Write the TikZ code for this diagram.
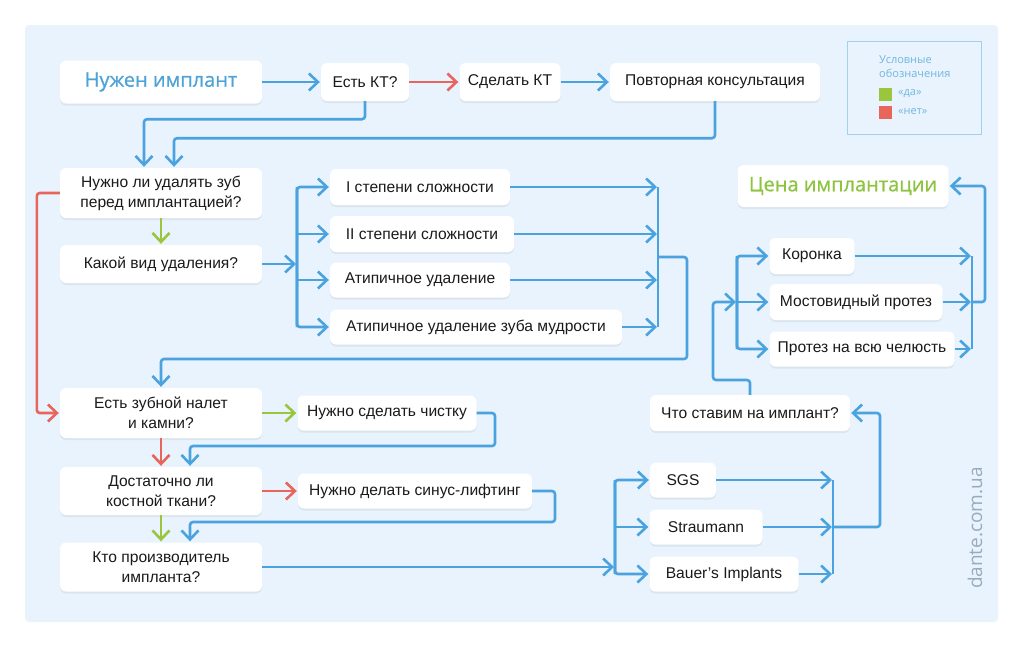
\documentclass[tikz,border=0pt]{standalone}
\usepackage{fontspec}
\setmainfont{Liberation Sans}
\newfontfamily\titlefont{Open Sans}[FakeBold=0.8]
\newfontfamily\notefont{Open Sans}
\usetikzlibrary{arrows.meta,shadows}
\definecolor{panel}{HTML}{E8F3FD}
\definecolor{flowblue}{HTML}{4AA3DE}
\definecolor{nored}{HTML}{E8655C}
\definecolor{yesgreen}{HTML}{9BC53D}
\definecolor{titleblue}{HTML}{4DA3D8}
\definecolor{titlegreen}{HTML}{8CC43F}
\definecolor{notetext}{HTML}{72B6E0}
\definecolor{noteframe}{HTML}{A5D0EC}
\definecolor{markgray}{HTML}{9AABBB}
\definecolor{boxtext}{HTML}{1A1A1A}
\begin{document}
\begin{tikzpicture}[x=1pt,y=-1pt,
  box/.style={fill=white,rounded corners=6pt,align=center,text=boxtext,inner sep=0pt,
    font=\fontsize{15.6}{20}\selectfont,
    drop shadow={shadow xshift=0pt,shadow yshift=-2pt,opacity=0.12}},
  headbox/.style={box,font=\titlefont\fontsize{20}{23}\selectfont},
  flow/.style={draw=flowblue,line width=2.6pt,rounded corners=3pt,
    -{Straight Barb[length=9pt,width=17pt]},shorten >=1pt},
  yes/.style={flow,draw=yesgreen},
  no/.style={flow,draw=nored},
  busline/.style={draw=flowblue,line width=2.6pt},
  note/.style={inner sep=0pt,text=notetext,font=\notefont\fontsize{11}{14}\selectfont}]
\useasboundingbox (0,0) rectangle (1024,649);
\fill[panel,rounded corners=4pt] (25,25) rectangle (998,622);

% legend
\draw[noteframe,line width=1pt] (847,41) rectangle (981,134);
\node (notehead) at (879,55) [note,anchor=north west,align=left] {Условные\\обозначения};
\node (yesmark) at (885.5,94) [fill=yesgreen,minimum size=13pt,inner sep=0pt]{};
\node (nomark) at (885.5,112) [fill=nored,minimum size=13pt,inner sep=0pt]{};
\node (yestext) at (898,94) [note,anchor=west] {«да»};
\node (notext) at (898,112) [note,anchor=west] {«нет»};
\node (site) at (975,528) [rotate=90,text=markgray,font=\notefont\fontsize{19}{21}\selectfont] {dante.com.ua};

% boxes
\node (need) at (161,82) [headbox,text=titleblue,minimum width=202pt,minimum height=43pt] {Нужен имплант};
\node (kt) at (365,82) [box,minimum width=88pt,minimum height=38pt] {Есть КТ?};
\node (mkct) at (510,82) [box,minimum width=101pt,minimum height=38pt] {Сделать КТ};
\node (consult) at (715,82) [box,minimum width=210pt,minimum height=38pt] {Повторная консультация};
\node (remove) at (161,193) [box,minimum width=202pt,minimum height=50pt] {Нужно ли удалять зуб\\перед имплантацией?};
\node (kind) at (161,264) [box,minimum width=202pt,minimum height=38pt] {Какой вид удаления?};
\node (deg1) at (420,187) [box,minimum width=180pt,minimum height=36pt] {I степени сложности};
\node (deg2) at (422,234) [box,minimum width=184pt,minimum height=36pt] {II степени сложности};
\node (atyp) at (420,280) [box,minimum width=180pt,minimum height=35pt] {Атипичное удаление};
\node (wisdom) at (476,327) [box,minimum width=292pt,minimum height=35pt] {Атипичное удаление зуба мудрости};
\node (price) at (843,186) [headbox,text=titlegreen,minimum width=211pt,minimum height=42pt] {Цена имплантации};
\node (crown) at (812,256) [box,minimum width=85pt,minimum height=36pt] {Коронка};
\node (bridge) at (856,302) [box,minimum width=173pt,minimum height=36pt] {Мостовидный протез};
\node (full) at (862,349) [box,minimum width=185pt,minimum height=35pt] {Протез на всю челюсть};
\node (plaque) at (161,413) [box,minimum width=202pt,minimum height=50pt] {Есть зубной налет\\и камни?};
\node (clean) at (387,413) [box,minimum width=179pt,minimum height=35pt] {Нужно сделать чистку};
\node (bone) at (161,491) [box,minimum width=202pt,minimum height=48pt] {Достаточно ли\\костной ткани?};
\node (sinus) at (415,491) [box,minimum width=234pt,minimum height=35pt] {Нужно делать синус-лифтинг};
\node (maker) at (161,567) [box,minimum width=202pt,minimum height=49pt] {Кто производитель\\импланта?};
\node (what) at (750,413) [box,minimum width=200pt,minimum height=36pt] {Что ставим на имплант?};
\node (sgs) at (683,480) [box,minimum width=66pt,minimum height=35pt] {SGS};
\node (strau) at (706,527) [box,minimum width=113pt,minimum height=35pt] {Straumann};
\node (bauer) at (724,574) [box,minimum width=149pt,minimum height=35pt] {Bauer’s Implants};

% bends and forks
\coordinate (fork1) at (297,264);
\coordinate (join1) at (658,257);
\coordinate (turn1) at (687,359);
\coordinate (turn2) at (495,446);
\coordinate (turn3) at (555,522);
\coordinate (fork2) at (615,567);
\coordinate (join2) at (833,527);
\coordinate (turn4) at (880,527);
\coordinate (turn5) at (713,380);
\coordinate (fork3) at (737,302);
\coordinate (join3) at (972,302);
\coordinate (turn6) at (985,302);

% top row
\draw[flow] (need) -- (kt);
\draw[no] (kt) -- (mkct);
\draw[flow] (mkct) -- (consult);
\draw[flow] (kt.south) -- ++(0,18) -| ([xshift=-17pt]remove.north);
\draw[flow] (consult.south) -- ++(0,37) -| ([xshift=13pt]remove.north);

% removal
\draw[yes] (remove) -- (kind);
\draw[no] (remove.west) -- ++(-23,0) |- (plaque.west);
\draw[flow] (kind.east) -- (fork1);
\draw[flow] (fork1 |- wisdom.west) |- (deg1.west);
\draw[flow] (fork1 |- deg1.west) |- (wisdom.west);
\draw[flow] (fork1 |- deg2.west) -- (deg2.west);
\draw[flow] (fork1 |- atyp.west) -- (atyp.west);
\draw[busline] (join1 |- deg1.east) -- (join1 |- wisdom.east);
\draw[flow] (deg1.east) -- (join1 |- deg1.east);
\draw[flow] (deg2.east) -- (join1 |- deg2.east);
\draw[flow] (atyp.east) -- (join1 |- atyp.east);
\draw[flow] (wisdom.east) -- (join1 |- wisdom.east);
\draw[flow] (join1) -| (turn1) -| (plaque.north);

% cleaning and bone
\draw[yes] (plaque) -- (clean);
\draw[no] (plaque) -- (bone);
\draw[flow] (clean.east) -| (turn2) -| ([xshift=29pt]bone.north);
\draw[no] (bone) -- (sinus);
\draw[flow] (sinus.east) -| (turn3) -| ([xshift=29pt]maker.north);
\draw[yes] (bone) -- (maker);

% makers
\draw[flow] (maker.east) -- (fork2);
\draw[flow] (fork2 |- bauer.west) |- (sgs.west);
\draw[flow] (fork2 |- sgs.west) |- (bauer.west);
\draw[flow] (fork2 |- strau.west) -- (strau.west);
\draw[busline] (join2 |- sgs.east) -- (join2 |- bauer.east);
\draw[flow] (sgs.east) -- (join2 |- sgs.east);
\draw[flow] (strau.east) -- (join2 |- strau.east);
\draw[flow] (bauer.east) -- (join2 |- bauer.east);
\draw[flow] (join2) -- (turn4) |- (what.east);

% prosthesis
\draw[flow] (what.north) |- (turn5) |- (fork3);
\draw[flow] (fork3 |- full.west) |- (crown.west);
\draw[flow] (fork3 |- crown.west) |- (full.west);
\draw[flow] (fork3) -- (bridge.west);
\draw[busline] (join3 |- crown.east) -- (join3 |- full.east);
\draw[flow] (crown.east) -- (join3 |- crown.east);
\draw[flow] (bridge.east) -- (join3 |- bridge.east);
\draw[flow] (full.east) -- (join3 |- full.east);
\draw[flow] (join3) -- (turn6) |- (price.east);
\end{tikzpicture}
\end{document}
